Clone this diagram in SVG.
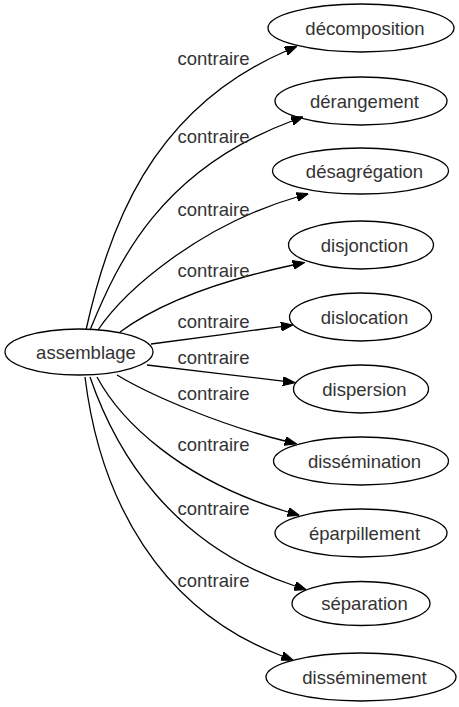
<svg xmlns="http://www.w3.org/2000/svg" width="459" height="707" viewBox="0 0 459 707">
<style>
.n ellipse{fill:none;stroke:#000;stroke-width:1.3}
text{font-family:"Liberation Sans",Arial,sans-serif;font-size:18.5px;fill:#333;text-anchor:middle}
.e path{fill:none;stroke:#000;stroke-width:1.3;marker-end:url(#ah)}
</style>
<defs>
<marker id="ah" markerUnits="userSpaceOnUse" viewBox="0 0 12 9" refX="0" refY="4.5" markerWidth="12" markerHeight="9" orient="auto">
<path d="M0,0 L12,4.5 L0,9 z" fill="#000" stroke="#000" stroke-width="1"/>
</marker>
</defs>
<rect width="459" height="707" fill="#fff"/>
<g id="edges" class="e">
<path d="M86,330 C108,230 150,110 286,51"/>
<path d="M90,330 C118,262 160,170 292,121"/>
<path d="M98,330 C125,290 200,225 297,197"/>
<path d="M120,332 C150,310 200,285 293,265"/>
<path d="M151,344 C190,339 240,332 281,326.6"/>
<path d="M147,365 C190,370 240,376 283,381.2"/>
<path d="M117,375 C150,395 220,425 285,441"/>
<path d="M97,377 C120,420 180,480 288,512"/>
<path d="M90,377 C115,450 170,545 295,586"/>
<path d="M85,377 C100,500 160,610 282,656"/>
<text x="213.5" y="65">contraire</text>
<text x="213.5" y="143">contraire</text>
<text x="213.5" y="216">contraire</text>
<text x="213.5" y="277">contraire</text>
<text x="213.5" y="328">contraire</text>
<text x="213.5" y="364">contraire</text>
<text x="213.5" y="400">contraire</text>
<text x="213.5" y="451">contraire</text>
<text x="213.5" y="515">contraire</text>
<text x="213.5" y="587">contraire</text>
</g>
<g id="assemblage" class="n"><ellipse cx="79" cy="352" rx="74" ry="23"/><text x="86" y="358.5">assemblage</text></g>
<g id="decomposition" class="n"><ellipse cx="361" cy="28" rx="93" ry="24"/><text x="365" y="34.5">décomposition</text></g>
<g id="derangement" class="n"><ellipse cx="361" cy="101" rx="86" ry="24"/><text x="364.5" y="107.5">dérangement</text></g>
<g id="desagregation" class="n"><ellipse cx="360.5" cy="171" rx="88" ry="23"/><text x="364.5" y="177.5">désagrégation</text></g>
<g id="disjonction" class="n"><ellipse cx="361" cy="245" rx="72.5" ry="24"/><text x="364.5" y="251.5">disjonction</text></g>
<g id="dislocation" class="n"><ellipse cx="360.5" cy="317" rx="71" ry="24"/><text x="364.5" y="323.5">dislocation</text></g>
<g id="dispersion" class="n"><ellipse cx="361" cy="389" rx="67.5" ry="24"/><text x="364.5" y="395.5">dispersion</text></g>
<g id="dissemination" class="n"><ellipse cx="361" cy="461" rx="87.5" ry="24"/><text x="364.5" y="467.5">dissémination</text></g>
<g id="eparpillement" class="n"><ellipse cx="361" cy="533" rx="86" ry="24"/><text x="364.5" y="539.5">éparpillement</text></g>
<g id="separation" class="n"><ellipse cx="361" cy="603.5" rx="69" ry="22"/><text x="364.5" y="610">séparation</text></g>
<g id="disseminement" class="n"><ellipse cx="361" cy="677" rx="95" ry="24"/><text x="364.5" y="683.5">disséminement</text></g>
</svg>
